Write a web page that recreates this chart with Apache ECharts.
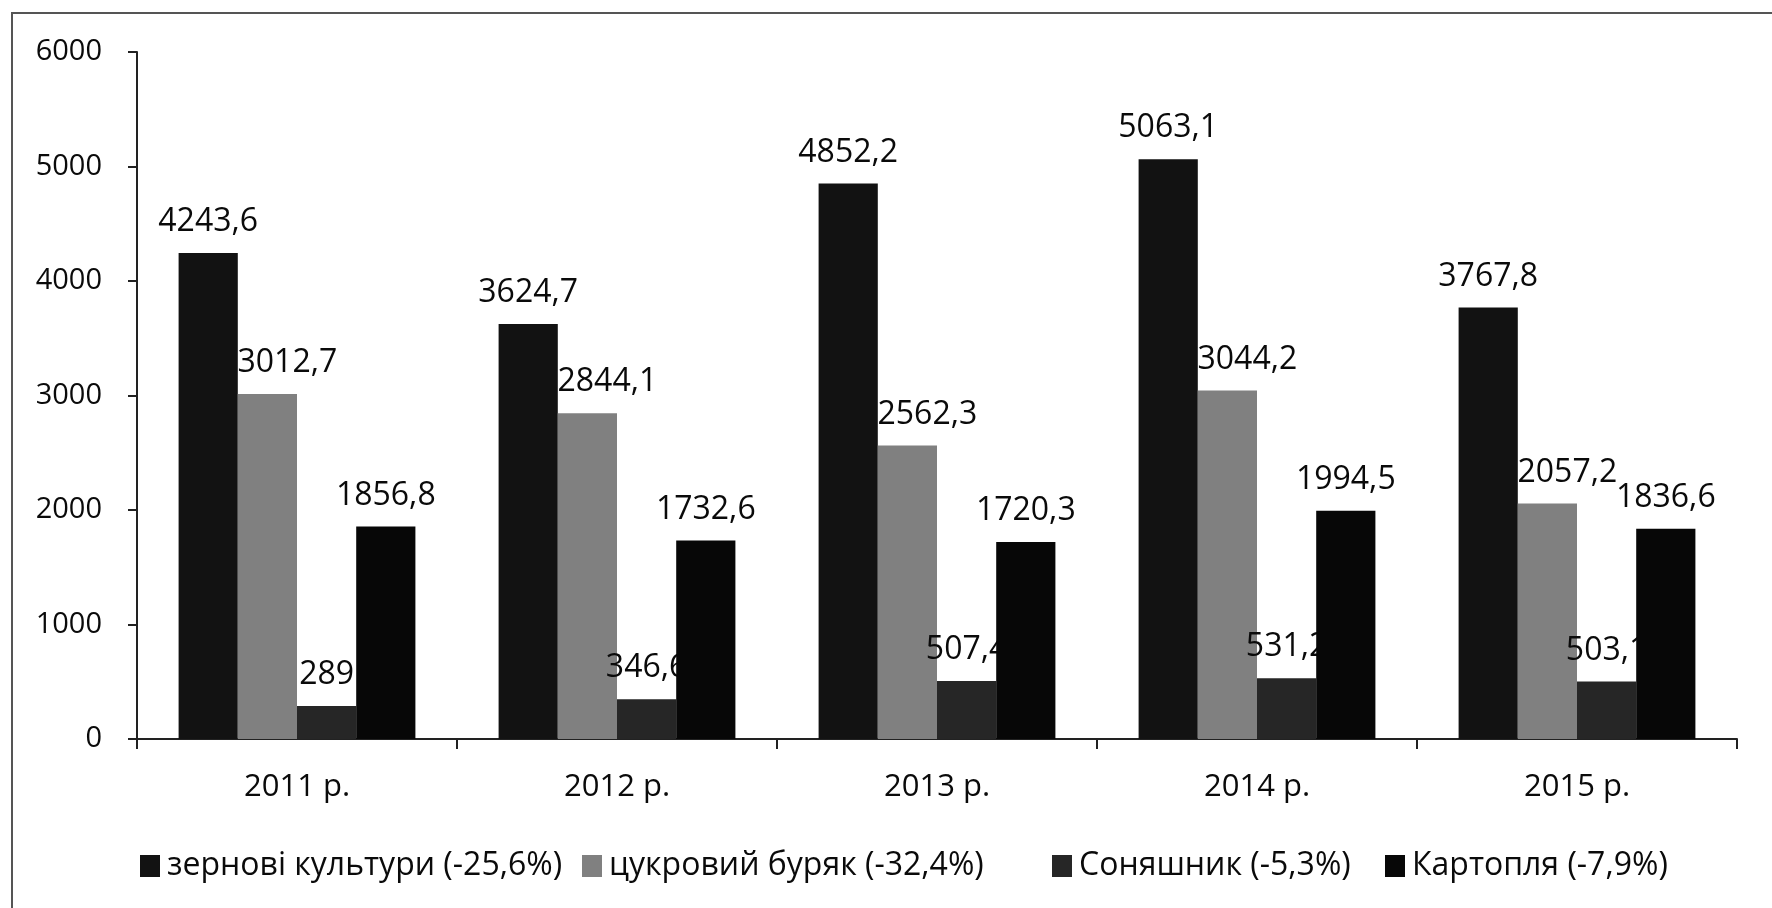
<!DOCTYPE html>
<html>
<head>
<meta charset="utf-8">
<script src="https://cdn.jsdelivr.net/npm/echarts@6/dist/echarts.min.js"></script>
<style>
  html, body { margin: 0; padding: 0; background: #fff; }
  #chart { width: 1772px; height: 908px; }
</style>
</head>
<body>
<div id="chart"></div>
<script>
// роки
const years = ["2011 р.", "2012 р.", "2013 р.", "2014 р.", "2015 р."];
// назви рядів (з легенди)
const seriesNames = [
  "зернові культури (-25,6%)",
  "цукровий буряк (-32,4%)",
  "Соняшник (-5,3%)",
  "Картопля (-7,9%)"
];
// значення
const grain = [4243.6, 3624.7, 4852.2, 5063.1, 3767.8];
const sugarBeet = [3012.7, 2844.1, 2562.3, 3044.2, 2057.2];
const sunflower = [289, 346.6, 507.4, 531.2, 503.1];
const potato = [1856.8, 1732.6, 1720.3, 1994.5, 1836.6];
const yTicks = [0, 1000, 2000, 3000, 4000, 5000, 6000];

const FONT = "'Open Sans', 'Noto Sans', sans-serif";
const colors = ["#121212", "#808080", "#262626", "#070707"];
// лівий край кожного елемента легенди (як в Excel)
const legendLeft = [135, 577, 1047, 1380];

function fmt(v) {
  return Number.isInteger(v) ? String(v) : v.toFixed(1).replace(".", ",");
}

let myChart = echarts.init(document.getElementById("chart"));

function makeSeries(name, data, idx, labelOffset) {
  return {
    name: name,
    type: "bar",
    data: data,
    z: 2 + idx,
    barGap: "0%",
    barCategoryGap: "26%",
    itemStyle: { color: colors[idx] },
    label: {
      show: true,
      position: "top",
      distance: 15,
      offset: labelOffset || [0, 0],
      color: "#0a0a0a",
      fontFamily: FONT,
      fontSize: 32,
      formatter: p => fmt(p.value)
    }
  };
}

let option = {
  backgroundColor: "#fff",
  animation: false,
  textStyle: { fontFamily: FONT },
  grid: {
    left: 137,
    right: 35,
    top: 52,
    bottom: 169
  },
  legend: seriesNames.map((n, i) => ({
    data: [n],
    left: legendLeft[i],
    top: 845,
    icon: "rect",
    itemWidth: 20,
    itemHeight: 22,
    selectedMode: false,
    textStyle: { fontFamily: FONT, fontSize: 32, color: "#0a0a0a", padding: [0, 0, 0, 2] }
  })),
  xAxis: {
    type: "category",
    data: years,
    axisLine: { lineStyle: { color: "#222", width: 2 } },
    axisTick: { show: true, length: 10, lineStyle: { color: "#222", width: 2 } },
    axisLabel: { color: "#0a0a0a", fontSize: 31, fontFamily: FONT, margin: 33 }
  },
  yAxis: {
    type: "value",
    min: yTicks[0],
    max: yTicks[yTicks.length - 1],
    interval: 1000,
    splitLine: { show: false },
    axisLine: { show: true, lineStyle: { color: "#222", width: 2 } },
    axisTick: { show: true, length: 9, lineStyle: { color: "#222", width: 2 } },
    axisLabel: {
      color: "#0a0a0a",
      fontSize: 29,
      fontFamily: FONT,
      margin: 35,
      formatter: v => String(v)
    }
  },
  graphic: [
    {
      type: "polyline",
      shape: { points: [[12, 908], [12, 13], [1772, 13]] },
      style: { stroke: "#555", lineWidth: 2, fill: null },
      silent: true
    }
  ],
  series: [
    makeSeries(seriesNames[0], grain, 0),
    makeSeries(seriesNames[1], sugarBeet, 1, [20, 0]),
    makeSeries(seriesNames[2], sunflower, 2),
    makeSeries(seriesNames[3], potato, 3)
  ]
};

myChart.setOption(option);
</script>
</body>
</html>
